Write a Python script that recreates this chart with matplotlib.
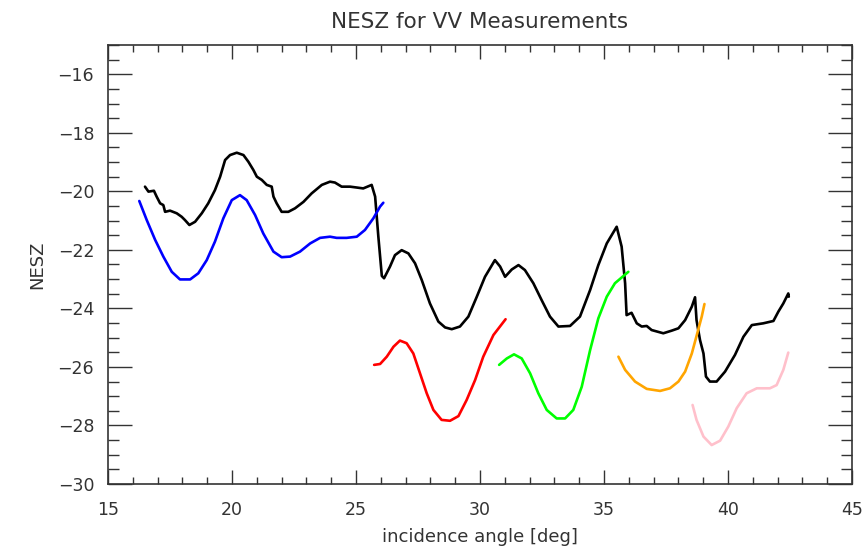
import numpy as np
import matplotlib.pyplot as plt
from matplotlib.ticker import MultipleLocator

# black: overall NESZ
black_x = [16.49, 16.63, 16.85, 16.96, 17.10, 17.23, 17.30, 17.50, 17.77, 17.97, 18.10, 18.28,
           18.51, 18.78, 19.04, 19.31, 19.52, 19.72, 19.92, 20.19, 20.46, 20.66, 20.86, 21.00,
           21.20, 21.40, 21.60, 21.67, 21.80, 22.00, 22.27, 22.54, 22.88, 23.21, 23.62, 23.95,
           24.15, 24.42, 24.76, 25.03, 25.29, 25.63, 25.77, 25.90, 26.04, 26.13, 26.37, 26.57,
           26.84, 27.11, 27.38, 27.65, 27.98, 28.32, 28.59, 28.86, 29.19, 29.53, 29.87, 30.20,
           30.60, 30.81, 31.01, 31.28, 31.55, 31.81, 32.15, 32.48, 32.82, 33.16, 33.63, 34.03,
           34.44, 34.77, 35.11, 35.51, 35.71, 35.85, 35.91, 36.11, 36.32, 36.52, 36.72, 36.92,
           37.39, 37.73, 38.00, 38.27, 38.54, 38.67, 38.73, 38.87, 39.01, 39.11, 39.27, 39.54,
           39.88, 40.28, 40.62, 40.96, 41.42, 41.83, 42.03, 42.23, 42.43, 42.45]
black_y = [-19.84, -20.01, -19.98, -20.18, -20.41, -20.47, -20.70, -20.66, -20.75, -20.87, -20.98, -21.15,
           -21.04, -20.75, -20.41, -19.96, -19.50, -18.93, -18.76, -18.68, -18.76, -18.99, -19.27, -19.50,
           -19.61, -19.78, -19.84, -20.18, -20.41, -20.70, -20.70, -20.58, -20.36, -20.07, -19.78, -19.67,
           -19.70, -19.84, -19.84, -19.87, -19.90, -19.78, -20.18, -21.55, -22.89, -22.97, -22.57, -22.18,
           -22.01, -22.12, -22.46, -23.03, -23.83, -24.45, -24.65, -24.71, -24.62, -24.28, -23.60, -22.92,
           -22.35, -22.57, -22.92, -22.67, -22.52, -22.69, -23.14, -23.71, -24.28, -24.62, -24.60, -24.28,
           -23.37, -22.52, -21.78, -21.21, -21.89, -23.14, -24.23, -24.15, -24.51, -24.62, -24.60, -24.74,
           -24.85, -24.76, -24.68, -24.40, -23.94, -23.62, -24.40, -25.08, -25.54, -26.33, -26.50, -26.50,
           -26.16, -25.59, -24.97, -24.57, -24.51, -24.43, -24.11, -23.83, -23.49, -23.60]

blue_x = [16.26, 16.56, 16.90, 17.23, 17.57, 17.90, 18.31, 18.64, 18.98, 19.31, 19.65, 19.99, 20.32,
          20.59, 20.93, 21.26, 21.67, 22.00, 22.34, 22.74, 23.15, 23.55, 23.95, 24.22, 24.62, 25.03,
          25.36, 25.70, 25.97, 26.10]
blue_y = [-20.33, -20.98, -21.66, -22.23, -22.75, -23.01, -23.01, -22.80, -22.35, -21.72, -20.92, -20.30, -20.13,
          -20.30, -20.81, -21.44, -22.06, -22.25, -22.23, -22.06, -21.78, -21.59, -21.55, -21.59, -21.59, -21.55,
          -21.32, -20.92, -20.52, -20.39]

red_x = [25.73, 25.97, 26.24, 26.51, 26.77, 27.04, 27.31, 27.58, 27.85, 28.12, 28.45, 28.79, 29.13,
         29.46, 29.80, 30.13, 30.54, 31.03]
red_y = [-25.93, -25.90, -25.65, -25.31, -25.10, -25.19, -25.54, -26.22, -26.90, -27.47, -27.81, -27.84, -27.68,
         -27.13, -26.45, -25.65, -24.91, -24.37]

green_x = [30.77, 31.08, 31.37, 31.68, 32.02, 32.35, 32.69, 33.09, 33.43, 33.76, 34.10, 34.44, 34.77,
           35.11, 35.44, 35.98]
green_y = [-25.93, -25.71, -25.57, -25.71, -26.22, -26.90, -27.47, -27.76, -27.76, -27.47, -26.68, -25.42, -24.34,
           -23.60, -23.14, -22.75]

orange_x = [35.58, 35.85, 36.25, 36.72, 37.26, 37.66, 38.00, 38.27, 38.54, 38.76, 38.94, 39.05]
orange_y = [-25.65, -26.10, -26.50, -26.75, -26.82, -26.73, -26.50, -26.16, -25.54, -24.85, -24.28, -23.85]

pink_x = [38.57, 38.73, 39.01, 39.34, 39.68, 40.01, 40.35, 40.75, 41.16, 41.69, 41.96, 42.23, 42.43]
pink_y = [-27.30, -27.81, -28.38, -28.67, -28.52, -28.04, -27.41, -26.90, -26.73, -26.73, -26.62, -26.10, -25.51]

txt = "#333333"
fig = plt.figure(figsize=(8.65, 5.53), dpi=100)
ax = fig.add_axes([0.1249, 0.1248, 0.8601, 0.7938])

lw = 1.9
style = dict(lw=lw, solid_joinstyle="round", solid_capstyle="round")
ax.plot(black_x, black_y, color="black", **style)
ax.plot(blue_x, blue_y, color="#0000ff", **style)
ax.plot(red_x, red_y, color="#ff0000", **style)
ax.plot(green_x, green_y, color="#00ff00", **style)
ax.plot(orange_x, orange_y, color="#ffa500", **style)
ax.plot(pink_x, pink_y, color="#ffc0cb", **style)

ax.set_xlim(15, 45)
ax.set_ylim(-30, -15)
ax.xaxis.set_major_locator(MultipleLocator(5))
ax.xaxis.set_minor_locator(MultipleLocator(1))
ax.set_yticks(np.arange(-30, -15, 2))
ax.yaxis.set_minor_locator(MultipleLocator(0.5))
ax.set_yticklabels(["\u2212%d" % abs(v) for v in range(-30, -15, 2)])

ax.tick_params(axis="both", which="both", direction="in", top=True, right=True,
               color=txt, labelcolor=txt, labelsize=12.5)
ax.tick_params(axis="x", which="major", length=10, width=1, pad=12)
ax.tick_params(axis="x", which="minor", length=5, width=1)
ax.tick_params(axis="y", which="major", length=17, width=1, pad=10)
ax.tick_params(axis="y", which="minor", length=8, width=1)
for s in ax.spines.values():
    s.set_color(txt)
    s.set_linewidth(1.2)

ax.set_title("NESZ for VV Measurements", fontsize=15.5, color=txt, pad=12)
ax.set_xlabel("incidence angle [deg]", fontsize=13, color=txt, labelpad=7)
ax.set_ylabel("NESZ", fontsize=13, color=txt, labelpad=8)

fig.savefig("out.png", dpi=100)
